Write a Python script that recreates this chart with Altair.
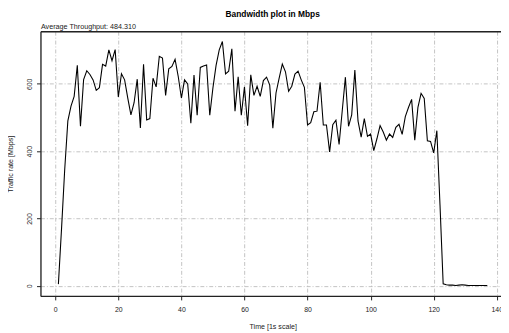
import altair as alt
import pandas as pd

# ---- data ----
seconds = list(range(1, 138))
rate = [
    5, 170, 345, 490, 534, 563, 655, 474, 613, 639,
    628, 612, 581, 589, 658, 653, 701, 669, 702, 561,
    630, 612, 558, 508, 544, 614, 469, 658, 493, 497,
    617, 591, 682, 677, 566, 645, 652, 673, 622, 558,
    612, 600, 483, 626, 507, 649, 653, 656, 507, 588,
    655, 701, 726, 630, 638, 704, 519, 621, 507, 591,
    476, 627, 566, 593, 563, 610, 620, 597, 468, 573,
    617, 659, 636, 578, 593, 629, 638, 612, 590, 478,
    485, 517, 519, 605, 478, 478, 398, 479, 492, 420,
    520, 620, 474, 508, 641, 490, 442, 497, 444, 451,
    402, 437, 476, 457, 433, 451, 441, 471, 480, 450,
    503, 530, 554, 433, 530, 572, 557, 431, 429, 395,
    461, 240, 6, 3, 2, 2, 1, 2, 3, 2,
    1, 1, 1, 1, 1, 1, 1,
]
x_ticks = [0, 20, 40, 60, 80, 100, 120, 140]
y_ticks = [0, 200, 400, 600]
main_title = "Bandwidth plot in Mbps"
sub_title = "Average Throughput: 484.310"
x_title = "Time [1s scale]"
y_title = "Traffic rate [Mbps]"

df = pd.DataFrame({"t": seconds, "v": rate})

FONT = "Liberation Sans"
INK = "#222222"

x_scale = alt.Scale(domain=[-4.68, 141.34], nice=False, zero=False)
y_scale = alt.Scale(domain=[-30.1, 756.4], nice=False, zero=False)

grid_kw = dict(grid=True, gridColor="#b4b4b4", gridDash=[4, 2, 1, 2], gridWidth=0.8)

bottom_axis = alt.Axis(
    values=x_ticks, **grid_kw,
    domainColor=INK, domainWidth=1.3, tickColor=INK, tickSize=4, tickWidth=1,
    labelFont=FONT, labelFontSize=7, labelColor=INK, labelPadding=12.3,
    labelBaseline="alphabetic", labelOverlap=False, labelFlush=False,
    title=x_title, titleFont=FONT, titleFontSize=7.2, titleFontWeight="normal",
    titleColor=INK, titleX=236, titleY=33, titleAlign="center",
    titleBaseline="alphabetic",
)
left_axis = alt.Axis(
    values=y_ticks, **grid_kw,
    domainColor=INK, domainWidth=1.3, tickColor=INK, tickSize=4, tickWidth=1,
    labelFont=FONT, labelFontSize=7, labelColor=INK, labelPadding=5.2,
    labelAngle=270, labelAlign="center", labelBaseline="alphabetic",
    labelOverlap=False, labelFlush=False,
    title=y_title, titleFont=FONT, titleFontSize=7.2, titleFontWeight="normal",
    titleColor=INK, titleAngle=270, titleX=-28, titleY=134.5,
    titleAlign="center", titleBaseline="alphabetic",
)
top_axis = alt.Axis(
    orient="top", grid=False, ticks=False, labels=False,
    domainColor=INK, domainWidth=1.3,
    title=sub_title, titleFont=FONT, titleFontSize=7.3, titleFontWeight="normal",
    titleColor=INK, titleX=0, titleY=-2.8, titleAlign="left",
    titleAnchor="start", titleBaseline="alphabetic",
)

line = alt.Chart(df).mark_line(color="black", strokeWidth=1.1, clip=True).encode(
    x=alt.X("t:Q", scale=x_scale, axis=bottom_axis),
    y=alt.Y("v:Q", scale=y_scale, axis=left_axis),
)
frame_top = alt.Chart(df).mark_line(opacity=0).encode(
    x=alt.X("t:Q", scale=x_scale, axis=top_axis),
    y=alt.Y("v:Q", scale=y_scale, axis=None),
)

chart = (
    alt.layer(line, frame_top)
    .resolve_axis(x="independent", y="independent")
    .properties(
        width=468,
        height=269,
        padding={"left": 33, "top": 21, "right": 0, "bottom": 35},
        autosize=alt.AutoSizeParams(type="none"),
        title=alt.TitleParams(
            main_title, font=FONT, fontSize=8.5, fontWeight="bold",
            color="black", anchor="middle", frame="group", dx=2, offset=4,
        ),
    )
    .configure_view(stroke=None)
    .configure(background="white")
)

chart.save("out.html", embed_options={"renderer": "svg", "actions": False})
